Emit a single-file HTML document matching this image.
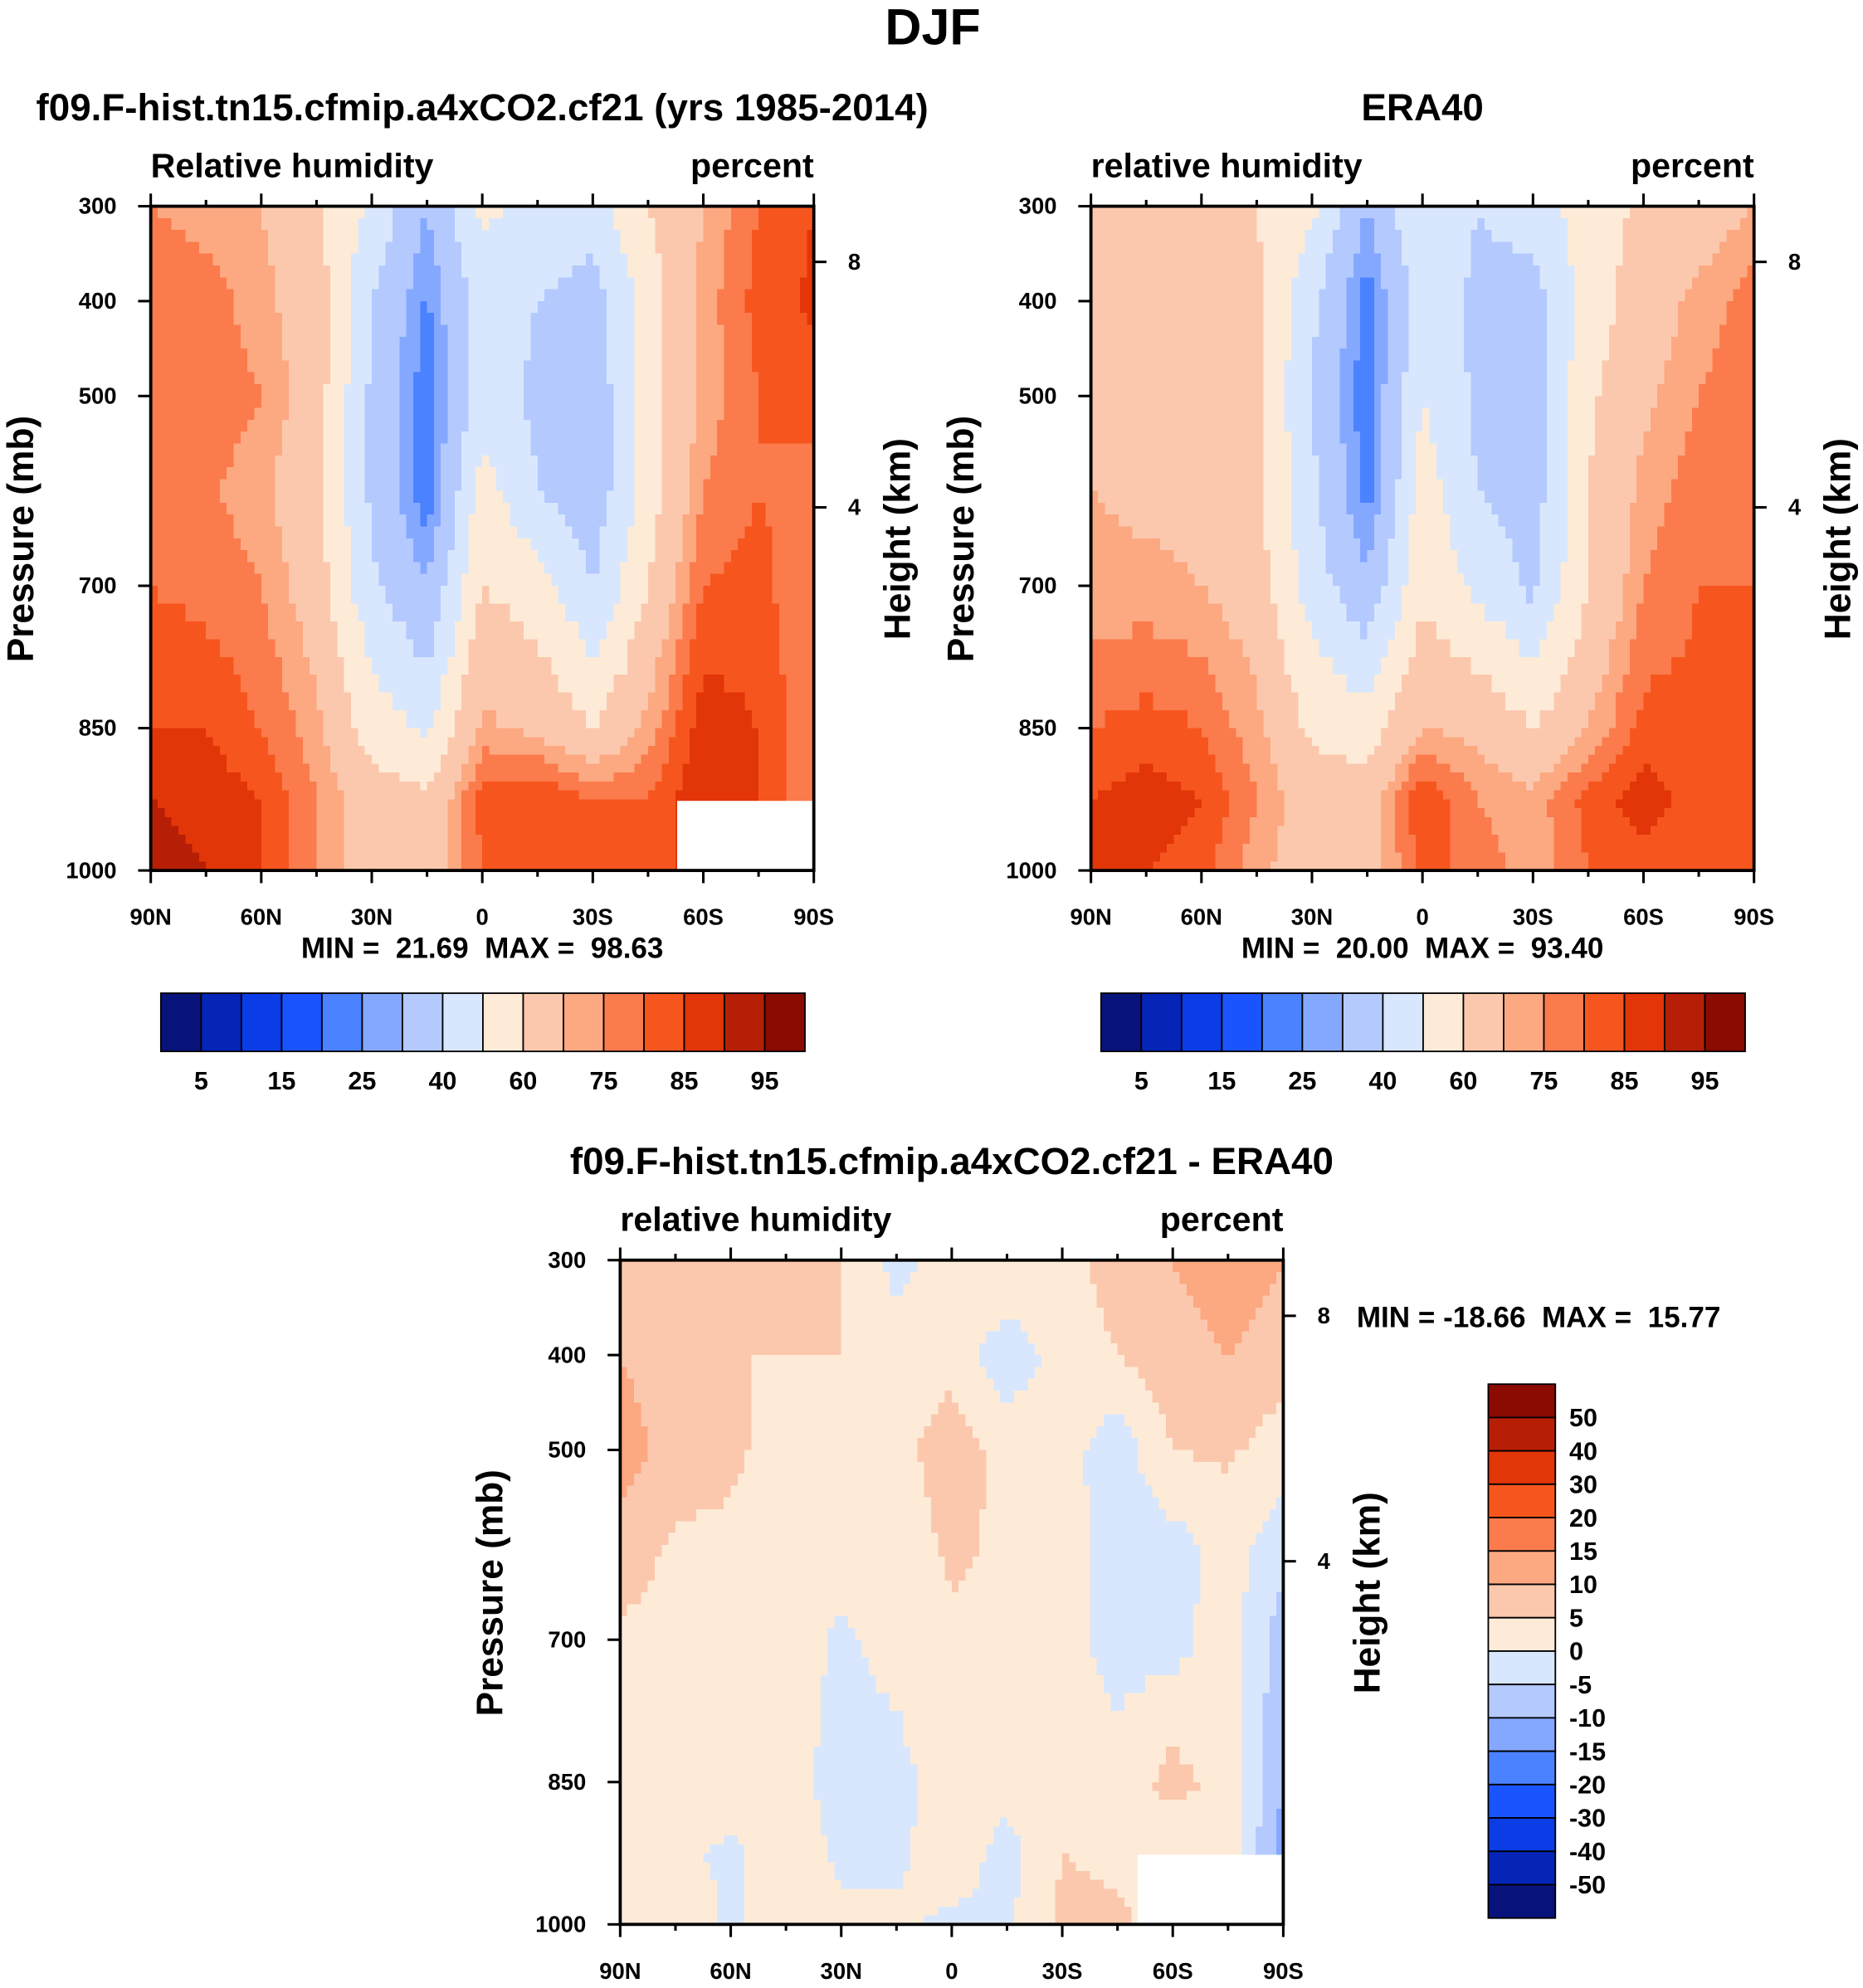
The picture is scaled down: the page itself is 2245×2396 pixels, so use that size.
<!DOCTYPE html>
<html><head><meta charset="utf-8"><style>
html,body{margin:0;padding:0;background:#fff;}
svg text{font-family:"Liberation Sans",sans-serif;font-weight:bold;fill:#000;}
</style></head><body>
<svg id="fig" width="2245" height="2391" viewBox="0 0 1472 1568" xmlns="http://www.w3.org/2000/svg">
<text x="737" y="35" font-size="40" text-anchor="middle">DJF</text>
<g id="g1"></g>
<g id="g2"></g>
<g id="g3"></g>
</svg>
<script>
const lats = [90,75,60,45,30,15,0,-15,-30,-45,-60,-75,-90];
const levels = [300,400,500,600,700,850,925,1000];
const modelRH = [
[75,72,70,62,48,30,52,48,45,60,70,80,85],
[80,78,72,65,40,24,45,40,35,55,72,82,86],
[80,78,75,65,38,21,45,38,33,55,72,80,82],
[80,76,72,62,38,21,55,40,33,55,75,80,78],
[80,78,75,65,42,30,60,55,40,60,80,82,75],
[85,85,80,72,55,48,72,68,60,72,88,85,75],
[90,88,85,75,65,62,82,85,80,80,90,85,75],
[93,90,85,75,65,65,80,82,82,85,85,85,75]];
const eraRH = [
[65,65,65,60,52,30,50,40,45,55,62,65,70],
[68,66,65,62,42,22,45,38,35,55,65,72,78],
[68,66,65,62,40,21,50,38,35,58,68,75,78],
[70,68,68,62,42,22,55,40,35,60,72,78,80],
[72,72,70,65,45,32,58,48,38,60,75,80,80],
[80,82,80,72,58,55,70,68,60,70,82,82,80],
[85,88,85,75,65,65,85,75,72,82,88,82,80],
[88,85,82,72,65,65,82,78,72,80,82,80,80]];
const diffRH = [
[5,5,5,5,5,-2,3,5,2,8,10,12,10],
[10,8,5,5,5,3,3,-3,2,5,8,10,8],
[12,8,6,3,3,3,8,3,2,-3,5,6,2],
[8,4,4,3,3,2,6,4,2,-2,-2,2,-3],
[4,3,4,3,-1,2,4,2,2,-2,-2,3,-8],
[3,3,3,2,-2,-2,3,2,3,2,7,3,-10],
[4,1,-1,3,-1,-1,3,-2,5,4,1,3,-12],
[4,4,-1,3,1,1,-1,-1,6,6,3,3,-5]];
const rhLevels = [5,10,15,20,25,30,40,50,60,70,75,80,85,90,95];
const rhLabels = ["5","15","25","40","60","75","85","95"];
const diffLevels = [-50,-40,-30,-20,-15,-10,-5,0,5,10,15,20,30,40,50];
const diffLabels = ["50","40","30","20","15","10","5","0","-5","-10","-15","-20","-30","-40","-50"];
const latLabels = ["90N","60N","30N","0","30S","60S","90S"];
const pLabels = [300,400,500,700,850,1000];
const colors = ["#07137a","#0425b8","#0a3de6","#1a54ff","#4a82ff","#85a8ff","#b4c9fe","#d8e7fd","#fdebd8","#fcc8ad","#fca881","#fb7b4c","#f6561e","#e23508","#b61f05","#8b0a02"];
const NS="http://www.w3.org/2000/svg";
function el(tag,attrs,parent,txt){const e=document.createElementNS(NS,tag);for(const k in attrs)e.setAttribute(k,attrs[k]);if(txt!==undefined)e.textContent=txt;parent.appendChild(e);return e;}
function colorFor(v,lv){let i=0;while(i<lv.length&&v>=lv[i])i++;return colors[i];}

function panel(g,x0,y0,data,lv,title,left,whiteBox){
  const W=524,H=525;
  const xs=lat=>x0+(90-lat)/180*W;
  const ys=p=>y0+(p-300)/700*H;
  const field=el('g',{'shape-rendering':'crispEdges'},g);
  
  
  const S=8;
  for(let j=0;j<levels.length-1;j++)for(let i=0;i<lats.length-1;i++){
    const a=data[j][i],b=data[j][i+1],c=data[j+1][i],d=data[j+1][i+1];
    const xa=xs(lats[i]),xb=xs(lats[i+1]),ya=ys(levels[j]),yb=ys(levels[j+1]);
    for(let u=0;u<S;u++)for(let v=0;v<S;v++){
      const fu=(u+.5)/S,fv=(v+.5)/S;
      const val=a*(1-fu)*(1-fv)+b*fu*(1-fv)+c*(1-fu)*fv+d*fu*fv;
      const r=el('rect',{x:xa+(xb-xa)*u/S,y:ya+(yb-ya)*v/S,width:(xb-xa)/S+0.6,height:(yb-ya)/S+0.6,fill:colorFor(val,lv)},field);
      
      
    }
  }
  if(whiteBox){const w=el('rect',{x:whiteBox[0],y:whiteBox[1],width:whiteBox[2],height:whiteBox[3],fill:'#fff'},g);
    }
  const fr=el('rect',{x:x0,y:y0,width:W,height:H,fill:'none',stroke:'#000','stroke-width':2.5},g);
  
  for(let lat=90;lat>=-90;lat-=15){const x=xs(lat);const L=lat%30===0?10:5;
    el('line',{x1:x,x2:x,y1:y0+H,y2:y0+H+L,stroke:'#000','stroke-width':2},g);
    el('line',{x1:x,x2:x,y1:y0,y2:y0-L,stroke:'#000','stroke-width':2},g);}
  latLabels.forEach((t,k)=>{const tx=el('text',{x:xs(90-30*k),y:y0+H+43,'font-size':18,'text-anchor':'middle'},g,t);
    });
  pLabels.forEach(p=>{el('line',{x1:x0-10,x2:x0,y1:ys(p),y2:ys(p),stroke:'#000','stroke-width':2},g);
    const tx=el('text',{x:x0-27,y:ys(p)+6,'font-size':18,'text-anchor':'end'},g,p);
    });
  [[8,y0+44],[4,y0+238]].forEach(([h,y])=>{el('line',{x1:x0+W,x2:x0+W+10,y1:y,y2:y,stroke:'#000','stroke-width':2},g);
    const tx=el('text',{x:x0+W+27,y:y+6,'font-size':18},g,h);
    });
  let t=el('text',{x:x0,y:y0-23,'font-size':27},g,left);
  t=el('text',{x:x0+W,y:y0-23,'font-size':27,'text-anchor':'end'},g,'percent');
  t=el('text',{x:x0+W/2,y:y0-68,'font-size':30,'text-anchor':'middle'},g,title);
  t=el('text',{x:0,y:0,'font-size':29,'text-anchor':'middle',transform:`translate(${x0-93},${y0+263}) rotate(-90)`},g,'Pressure (mb)');
  t=el('text',{x:0,y:0,'font-size':29,'text-anchor':'middle',transform:`translate(${x0+W+76},${y0+263}) rotate(-90)`},g,'Height (km)');
}
function hbar(g,x0,y0,labels){
  const bw=509/16;
  colors.forEach((c,i)=>{const r=el('rect',{x:x0+i*bw,y:y0,width:bw,height:46,fill:c,stroke:'#000','stroke-width':1.2},g);
    });
  labels.forEach((l,k)=>{const t=el('text',{x:x0+bw*(1+2*k),y:y0+76,'font-size':20,'text-anchor':'middle'},g,l);
    });
}
const g1=document.getElementById('g1'),g2=document.getElementById('g2'),g3=document.getElementById('g3');
panel(g1,119,163,modelRH,rhLevels,'f09.F-hist.tn15.cfmip.a4xCO2.cf21 (yrs 1985-2014)','Relative humidity',[535,633,108,55]);
panel(g2,862,163,eraRH,rhLevels,'ERA40','relative humidity',null);
panel(g3,490,996,diffRH,diffLevels,'f09.F-hist.tn15.cfmip.a4xCO2.cf21 - ERA40','relative humidity',[899,1466,115,55]);
const nb='\u00a0';
let t=el('text',{x:381,y:757,'font-size':23,'text-anchor':'middle'},g1,`MIN =${nb}${nb}21.69${nb}${nb}MAX =${nb}${nb}98.63`);
t=el('text',{x:1124,y:757,'font-size':23,'text-anchor':'middle'},g2,`MIN =${nb}${nb}20.00${nb}${nb}MAX =${nb}${nb}93.40`);
t=el('text',{x:1072,y:1049,'font-size':23},g3,`MIN = -18.66${nb}${nb}MAX =${nb}${nb}15.77`);
hbar(g1,127,785,rhLabels);
hbar(g2,870,785,rhLabels);
const bh=422/16;
colors.slice().reverse().forEach((c,i)=>{const r=el('rect',{x:1176,y:1094+i*bh,width:53,height:bh,fill:c,stroke:'#000','stroke-width':1.2},g3);
  });
diffLabels.forEach((l,k)=>{const tx=el('text',{x:1240,y:1094+bh*(k+1)+7,'font-size':20},g3,l);
  });
</script>
</body></html>
